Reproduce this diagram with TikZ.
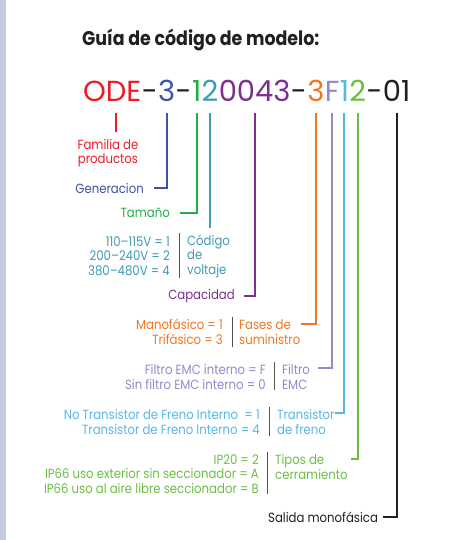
\documentclass[tikz,border=0pt]{standalone}
\usepackage{fontspec}
\setmainfont[FakeStretch=0.88]{Poppins}
\newfontfamily\codefont{Poppins}
\usetikzlibrary{calc}
\definecolor{cred}{HTML}{ED1C24}
\definecolor{cblue}{HTML}{3B54A4}
\definecolor{cgreen}{HTML}{1EB14B}
\definecolor{cteal}{HTML}{3F9AB4}
\definecolor{cpurple}{HTML}{7D2E8E}
\definecolor{corange}{HTML}{EE7623}
\definecolor{clav}{HTML}{8E8CC8}
\definecolor{clblue}{HTML}{58B6E7}
\definecolor{cgreenb}{HTML}{6BBE44}
\definecolor{ink}{HTML}{231F20}
\definecolor{strip}{HTML}{C8CADF}
\definecolor{sepgray}{HTML}{505050}
\begin{document}
\begin{tikzpicture}[x=1pt,y=-1pt,
  code/.style={inner sep=0pt,anchor=base west,font=\codefont\fontsize{29}{29}\selectfont},
  txt/.style={inner sep=0pt,font=\fontsize{13.3}{14.5}\selectfont},
  txtb/.style={inner sep=0pt,font=\fontsize{13.3}{15.5}\selectfont},
  conn/.style={line width=2pt},
  sepl/.style={draw=sepgray,line width=0.9pt}]
\useasboundingbox (0,0) rectangle (463,540);
\fill[strip] (0,0) rectangle (6,540);
\node[inner sep=0pt,anchor=base west,text=ink,font=\bfseries\fontsize{19.8}{19.8}\selectfont] (title) at (82,46) {Guía de código de modelo:};
% code line
\node[code,text=cred] (c1) at (83,102) {ODE};
\node[code,text=ink] (h1) at (c1.base east) {-};
\node[code,text=cblue] (c2) at (h1.base east) {3};
\node[code,text=ink] (h2) at (c2.base east) {-};
\node[code,text=cgreen] (c3) at (h2.base east) {1};
\node[code,text=cteal] (c4) at (c3.base east) {2};
\node[code,text=cpurple] (c5) at (c4.base east) {0043};
\node[code,text=ink] (h3) at (c5.base east) {-};
\node[code,text=corange] (c6) at (h3.base east) {3};
\node[code,text=clav] (c7) at (c6.base east) {F};
\node[code,text=clblue] (c8) at (c7.base east) {1};
\node[code,text=cgreenb] (c9) at (c8.base east) {2};
\node[code,text=ink] (h4) at (c9.base east) {-};
\node[code,text=ink] (c10) at (h4.base east) {01};
% tick tops
\coordinate (t1) at ($(c1.base)+(4,11)$);
\coordinate (t2) at ($(c2.base)+(0,11)$);
\coordinate (t3) at ($(c3.base)+(0,11)$);
\coordinate (t4) at ($(c4.base)+(0,11)$);
\coordinate (t5) at ($(c5.base)+(0,11)$);
\coordinate (t6) at ($(c6.base)+(0,11)$);
\coordinate (t7) at ($(c7.base)+(0,11)$);
\coordinate (t8) at ($(c8.base)+(0,11)$);
\coordinate (t9) at ($(c9.base)+(0,11)$);
\coordinate (t10) at ($(c10.base)+(0,11)$);
% labels
\node[txt,text=cred,align=center] (fam) at (108,153) {Familia de\\productos};
\node[txt,text=cblue,anchor=east] (gen) at (144,188) {Generacion};
\node[txt,text=cgreen,anchor=east] (tam) at (170,213) {Tamaño};
\node[txt,text=cteal,anchor=east,align=right] (volL) at (170,256) {110–115V = 1\\200–240V = 2\\380–480V = 4};
\node[txt,text=cteal,anchor=west,align=left] (volR) at (187,256) {Código\\de\\voltaje};
\node[txt,text=cpurple,anchor=east] (cap) at (235,296) {Capacidad};
\node[txtb,text=corange,anchor=east,align=right] (phL) at (223,332) {Manofásico = 1\\Trifásico = 3};
\node[txtb,text=corange,anchor=west,align=left] (phR) at (239,332) {Fases de\\suministro};
\node[txtb,text=clav,anchor=east,align=right] (emL) at (266,377) {Filtro EMC interno = F\\Sin filtro EMC interno = 0};
\node[txtb,text=clav,anchor=west,align=left] (emR) at (282,377) {Filtro\\EMC};
\node[txt,text=clblue,anchor=east,align=right] (brL) at (260,422) {No Transistor de Freno Interno\ \ = 1\\Transistor de Freno Interno = 4};
\node[txt,text=clblue,anchor=west,align=left] (brR) at (277,422) {Transistor\\de freno};
\node[txt,text=cgreenb,anchor=east,align=right] (enL) at (259,474) {IP20 = 2\\IP66 uso exterior sin seccionador = A\\IP66 uso al aire libre seccionador = B};
\node[txt,text=cgreenb,anchor=west,align=left] (enR) at (275,467) {Tipos de\\cerramiento};
\node[txt,text=ink,anchor=west] (sal) at (268,517) {Salida monofásica};
% separators
\draw[sepl] (179,233) -- (179,278);
\draw[sepl] (232,317) -- (232,347);
\draw[sepl] (274,362) -- (274,390);
\draw[sepl] (269,407) -- (269,436);
\draw[sepl] (267,452) -- (267,494);
% connector ends
\coordinate (e2) at (154,188);
\coordinate (e3) at (180,213);
\coordinate (e5) at (244,296);
\coordinate (e6) at (301,324);
\coordinate (e7) at (318,368);
\coordinate (e8) at (335,413);
\coordinate (e9) at (351,459);
\coordinate (e10) at (383,517);
% connectors
\draw[conn,cred] (t1) -- ($(t1 |- fam.north)+(0,-7)$);
\draw[conn,cblue] (t2) |- (e2);
\draw[conn,cgreen] (t3) |- (e3);
\draw[conn,cteal] (t4) -- ($(t4 |- volR.north)+(0,-6)$);
\draw[conn,cpurple] (t5) |- (e5);
\draw[conn,corange] (t6) |- (e6);
\draw[conn,clav] (t7) |- (e7);
\draw[conn,clblue] (t8) |- (e8);
\draw[conn,cgreenb] (t9) |- (e9);
\draw[conn,ink] (t10) |- (e10);
\end{tikzpicture}
\end{document}
